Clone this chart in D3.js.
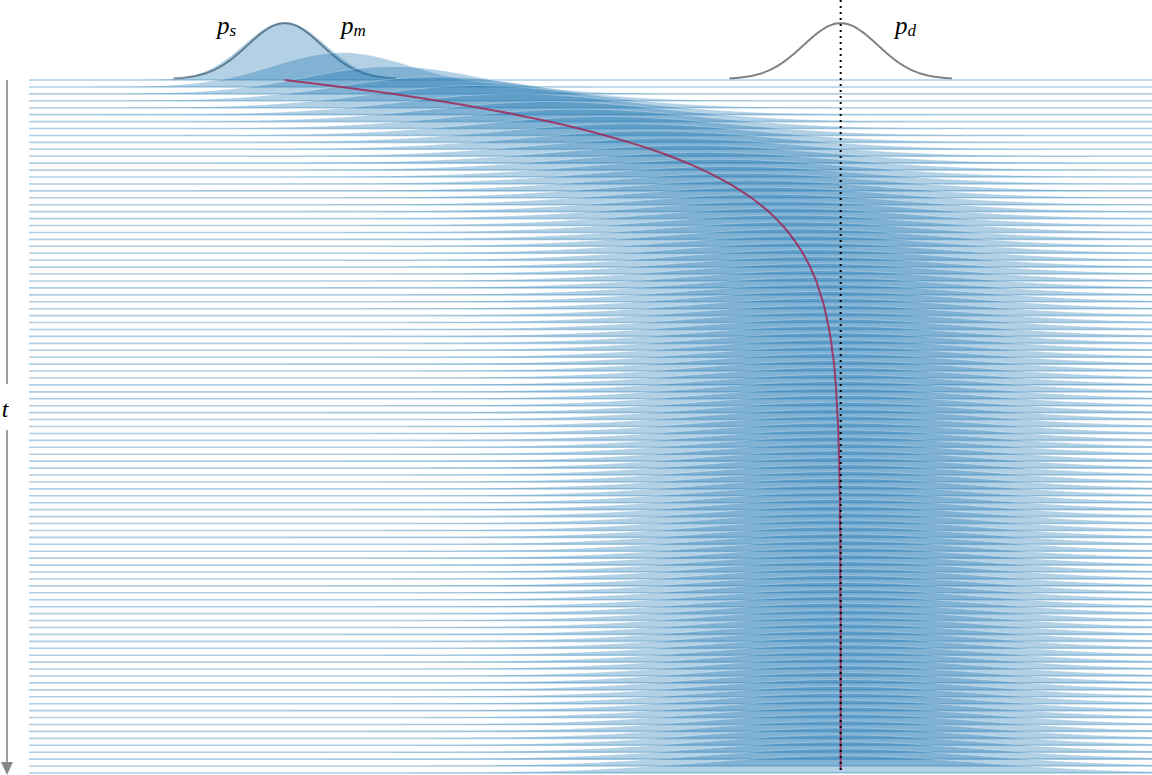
<!DOCTYPE html>
<html>
<head>
<meta charset="utf-8">
<script src="https://cdn.jsdelivr.net/npm/d3@7"></script>
<style>
  html, body { margin: 0; padding: 0; background: #fff; }
  svg { display: block; }
</style>
</head>
<body>
<svg id="chart" width="1152" height="775"></svg>
<script>
// ---- data (x in units where p_s is centred at 0 and p_d at 15, sd 1) ----
const sourceMean = 0;
const targetMean = 15;
const endpointSigma = 1;

// mean of the marginal at each time step t = 0..100
const rowMean = [
  0.00, 1.53, 2.90, 4.14, 5.24, 6.24, 7.13, 7.93, 8.65, 9.30,
  9.88, 10.40, 10.87, 11.29, 11.67, 12.01, 12.31, 12.59, 12.83, 13.06,
  13.25, 13.43, 13.59, 13.73, 13.86, 13.98, 14.08, 14.18, 14.26, 14.34,
  14.40, 14.46, 14.52, 14.57, 14.61, 14.65, 14.69, 14.72, 14.75, 14.77,
  14.80, 14.82, 14.84, 14.85, 14.87, 14.88, 14.89, 14.90, 14.91, 14.92,
  14.93, 14.94, 14.94, 14.95, 14.95, 14.96, 14.96, 14.97, 14.97, 14.97,
  14.98, 14.98, 14.98, 14.98, 14.98, 14.99, 14.99, 14.99, 14.99, 14.99,
  14.99, 14.99, 14.99, 14.99, 14.99, 14.99, 15.00, 15.00, 15.00, 15.00,
  15.00, 15.00, 15.00, 15.00, 15.00, 15.00, 15.00, 15.00, 15.00, 15.00,
  15.00, 15.00, 15.00, 15.00, 15.00, 15.00, 15.00, 15.00, 15.00, 15.00,
  15.00
];
// spread of the marginal at each time step
const rowSigma = [
  1.10, 1.86, 2.33, 2.65, 2.88, 3.06, 3.19, 3.30, 3.38, 3.44,
  3.49, 3.54, 3.57, 3.59, 3.61, 3.63, 3.64, 3.66, 3.66, 3.67,
  3.68, 3.68, 3.68, 3.69, 3.69, 3.69, 3.69, 3.69, 3.70, 3.70,
  3.70, 3.70, 3.70, 3.70, 3.70, 3.70, 3.70, 3.70, 3.70, 3.70,
  3.70, 3.70, 3.70, 3.70, 3.70, 3.70, 3.70, 3.70, 3.70, 3.70,
  3.70, 3.70, 3.70, 3.70, 3.70, 3.70, 3.70, 3.70, 3.70, 3.70,
  3.70, 3.70, 3.70, 3.70, 3.70, 3.70, 3.70, 3.70, 3.70, 3.70,
  3.70, 3.70, 3.70, 3.70, 3.70, 3.70, 3.70, 3.70, 3.70, 3.70,
  3.70, 3.70, 3.70, 3.70, 3.70, 3.70, 3.70, 3.70, 3.70, 3.70,
  3.70, 3.70, 3.70, 3.70, 3.70, 3.70, 3.70, 3.70, 3.70, 3.70,
  3.70
];
const labels = [
  { base: "p", sub: "s", x: 217 },
  { base: "p", sub: "m", x: 341 },
  { base: "p", sub: "d", x: 895 }
];
const axisLabel = "t";

// ---- scales ----
const svg = d3.select("#chart");
const x = d3.scaleLinear().domain([-6.9, 23.4]).range([29, 1152]);
const yRow = d3.scaleLinear().domain([0, rowMean.length - 1]).range([80, 773]);
const hRidge = d3.scaleLinear().domain([0, 1]).range([0, 160]);
const hEnd = d3.scaleLinear().domain([0, 1]).range([0, 140]);

const gauss = (v, m, s) => Math.exp(-0.5 * ((v - m) / s) ** 2) / (s * Math.sqrt(2 * Math.PI));
const grid = d3.range(-6.9, 23.401, 0.05);

// ---- endpoint densities (drawn first, ridges overlay them) ----
const endBase = 79;
[sourceMean, targetMean].forEach(m => {
  const pts = d3.range(m - 3, m + 3.001, 0.05);
  svg.append("path")
    .attr("d", d3.line()
      .x(v => x(v))
      .y(v => endBase - hEnd(gauss(v, m, endpointSigma)))(pts))
    .attr("fill", "none")
    .attr("stroke", "#808080")
    .attr("stroke-width", 2);
});

// ---- ridges ----
const gR = svg.append("g");
rowMean.forEach((m, i) => {
  const s = rowSigma[i];
  const base = yRow(i);
  const area = d3.area()
    .x(v => x(v))
    .y0(base)
    .y1(v => base - hRidge(gauss(v, m, s)));
  const top = d3.line()
    .x(v => x(v))
    .y(v => base - hRidge(gauss(v, m, s)));
  gR.append("path")
    .attr("d", area(grid))
    .attr("fill", "#1f77b4")
    .attr("fill-opacity", 0.34)
    .attr("stroke", "none");
  gR.append("path")
    .attr("d", top(grid))
    .attr("fill", "none")
    .attr("stroke", "#ffffff")
    .attr("stroke-opacity", 0.3)
    .attr("stroke-width", 0.9);
  gR.append("line")
    .attr("x1", x(-6.9)).attr("x2", x(23.4))
    .attr("y1", base).attr("y2", base)
    .attr("stroke", "#1f77b4")
    .attr("stroke-opacity", 0.36)
    .attr("stroke-width", 1.6);
});

// ---- mean path ----
svg.append("path")
  .attr("d", d3.line()
    .x(d => x(d))
    .y((d, i) => yRow(i) - (i === rowMean.length - 1 ? 3 : 0))
    .curve(d3.curveCatmullRom)(rowMean))
  .attr("fill", "none")
  .attr("stroke", "#a3204f")
  .attr("stroke-opacity", 0.8)
  .attr("stroke-width", 2);

// ---- target mean marker ----
svg.append("line")
  .attr("x1", x(targetMean)).attr("x2", x(targetMean))
  .attr("y1", 0).attr("y2", 770)
  .attr("stroke", "#000")
  .attr("stroke-width", 2)
  .attr("stroke-dasharray", "2,4");

// ---- labels ----
labels.forEach(l => {
  const t = svg.append("text")
    .attr("x", l.x).attr("y", 34)
    .attr("font-family", "Liberation Serif, DejaVu Serif, serif")
    .attr("font-style", "italic")
    .attr("font-size", 25)
    .attr("fill", "#000");
  t.append("tspan").text(l.base);
  t.append("tspan").attr("font-size", 17).attr("dy", 2).text(l.sub);
});

// ---- time arrow ----
const ax = 7;
svg.append("line").attr("x1", ax).attr("x2", ax).attr("y1", 80).attr("y2", 384)
  .attr("stroke", "#888").attr("stroke-width", 1.6);
svg.append("line").attr("x1", ax).attr("x2", ax).attr("y1", 430).attr("y2", 763)
  .attr("stroke", "#888").attr("stroke-width", 1.6);
svg.append("path")
  .attr("d", d3.line()([[1, 762], [13, 762], [7, 775]]) + "Z")
  .attr("fill", "#888");
svg.append("text")
  .attr("x", 5).attr("y", 417)
  .attr("text-anchor", "middle")
  .attr("font-family", "Liberation Serif, DejaVu Serif, serif")
  .attr("font-style", "italic")
  .attr("font-size", 24)
  .text(axisLabel);
</script>
</body>
</html>
